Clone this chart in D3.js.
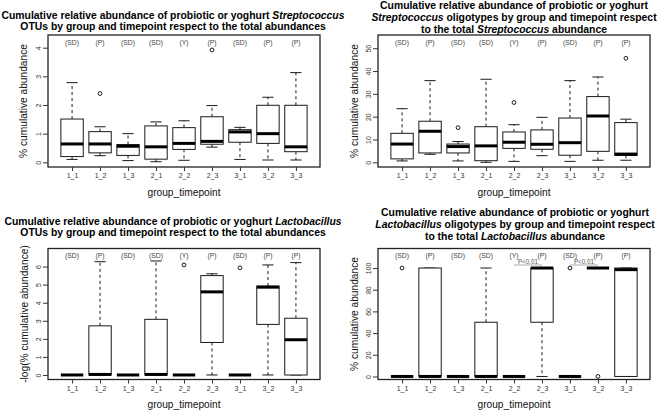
<!DOCTYPE html>
<html><head><meta charset="utf-8">
<script src="https://cdn.jsdelivr.net/npm/d3@7"></script>
<style>body{margin:0;background:#fff}svg{display:block}text{font-family:"Liberation Sans",Arial,Helvetica,sans-serif}</style>
</head><body><svg id="c" width="660" height="412"></svg>
<script>
const categories = ["1_1","1_2","1_3","2_1","2_2","2_3","3_1","3_2","3_3"];
const groupLabels = ["(SD)","(P)","(SD)","(SD)","(Y)","(P)","(SD)","(P)","(P)"];

// each entry: [lower whisker, Q1, median, Q3, upper whisker]
const strepOtuStats = [[0.10,0.20,0.64,1.51,2.78],[0.23,0.33,0.64,1.07,1.24],[0.06,0.24,0.56,0.62,1.00],[0.02,0.11,0.54,1.27,1.41],[0.07,0.45,0.66,1.21,1.45],[0.53,0.63,0.73,1.59,1.98],[0.10,0.70,1.06,1.14,1.22],[0.08,0.66,1.00,1.99,2.27],[0.08,0.37,0.54,1.99,3.13]];
const strepOtuOutliers = [[],[2.40],[],[],[],[3.92],[],[],[]];
const strepOtuTicks = [0,1,2,3,4];

const strepOligoStats = [[0.6,1.5,8.0,12.7,23.5],[3.5,4.1,13.6,18.0,35.8],[0.6,4.1,6.9,8.0,9.1],[0.0,0.7,7.2,15.6,36.4],[0.4,6.1,8.8,13.3,16.5],[2.9,5.7,7.9,14.2,19.7],[0.4,3.1,8.6,19.4,35.8],[0.9,4.8,20.3,28.8,37.4],[0.9,3.0,3.6,17.4,18.9]];
const strepOligoOutliers = [[],[],[15.2],[],[26.2],[],[],[],[45.6]];
const strepOligoTicks = [0,10,20,30,40,50];

const lactoOtuStats = [[0,0,0,0,0],[0,0,0.03,2.72,6.27],[0,0,0,0,0],[0,0,0.03,3.08,6.31],[0,0,0,0,0],[0,1.8,4.6,5.5,5.6],[0,0,0,0,0],[0,2.8,4.86,4.92,6.09],[0,0,1.95,3.14,6.22]];
const lactoOtuOutliers = [[],[],[],[],[6.09],[],[5.93],[],[]];
const lactoOtuTicks = [0,1,2,3,4,5,6];

const lactoOligoStats = [[0,0,0,0,0],[0,0,0,100,100],[0,0,0,0,0],[0,0,0,50,100],[0,0,0,0,0],[0,50,100,100,100],[0,0,0,0,0],[100,100,100,100,100],[0,0,98.5,100,100]];
const lactoOligoOutliers = [[100],[],[],[],[],[],[100],[0],[]];
const lactoOligoTicks = [0,20,40,60,80,100];
const lactoOligoPairs = [[4,5],[6,7]];
const pLabel = "P<0.01";

const svg = d3.select("#c");
svg.append("rect").attr("width",660).attr("height",412).attr("fill","#fff");

const panels = [
  {ox:0, oy:0, top:35, bottom:167, yDom:[-0.164,4.443], stats:strepOtuStats, outl:strepOtuOutliers, ticks:strepOtuTicks,
   ylab:"% cumulative abundance", ylabX:23, tcx:173, gy:195.5,
   title:[[["Cumulative relative abundance of probiotic or yoghurt ",0],["Streptococcus",1]],[["OTUs by group and timepoint respect to the total abundances",0]]], ty:[18.5,30]},
  {ox:330, oy:0, top:35, bottom:167, yDom:[-2.06,55.8], stats:strepOligoStats, outl:strepOligoOutliers, ticks:strepOligoTicks,
   ylab:"% cumulative abundance", ylabX:24, tcx:184, gy:195.5,
   title:[[["Cumulative relative abundance of probiotic or yoghurt",0]],[["Streptococcus",1],[" oligotypes by group and timepoint respect",0]],[["to the total ",0],["Streptococcus",1],[" abundance",0]]], ty:[8.5,20.5,32.5]},
  {ox:0, oy:206, top:42.5, bottom:173.5, yDom:[-0.25,7.0], stats:lactoOtuStats, outl:lactoOtuOutliers, ticks:lactoOtuTicks,
   ylab:"-log(% cumulative abundance)", ylabX:24, tcx:173, gy:201.5,
   title:[[["Cumulative relative abundance of probiotic or yoghurt ",0],["Lactobacillus",1]],[["OTUs by group and timepoint respect to the total abundances",0]]], ty:[18.5,30]},
  {ox:330, oy:206, top:42.5, bottom:173.5, yDom:[-2.8,118], stats:lactoOligoStats, outl:lactoOligoOutliers, ticks:lactoOligoTicks,
   ylab:"% cumulative abundance", ylabX:24, tcx:185, gy:201.5, pairs:lactoOligoPairs,
   title:[[["Cumulative relative abundance of probiotic or yoghurt",0]],[["Lactobacillus",1],[" oligotypes by group and timepoint respect",0]],[["to the total ",0],["Lactobacillus",1],[" abundance",0]]], ty:[10,22,33.5]}
];

const ink = "#1a1a1a";
panels.forEach(p => {
  const g = svg.append("g").attr("transform", `translate(${p.ox},${p.oy})`);
  const left = 48, right = 320;
  const x = d3.scaleLinear().domain([0.14, categories.length + 0.86]).range([left, right]);
  const y = d3.scaleLinear().domain(p.yDom).range([p.bottom, p.top]);
  const bw = x(1.4) - x(1);   // half box width (boxwex 0.8)
  const cw = x(1.2) - x(1);   // half staple width

  p.title.forEach((line, i) => {
    const t = g.append("text").attr("x", p.tcx).attr("y", p.ty[i]).attr("text-anchor","middle")
      .attr("font-size", "10.4px").attr("font-weight","bold").attr("fill","#000");
    line.forEach(([s, it]) => t.append("tspan").text(s).attr("font-style", it ? "italic" : "normal"));
  });

  p.stats.forEach((s, i) => {
    const cx = x(i + 1);
    const [lo, q1, md, q3, hi] = s;
    g.append("line").attr("x1",cx).attr("x2",cx).attr("y1",y(q3)).attr("y2",y(hi))
      .attr("stroke",ink).attr("stroke-width",1).attr("stroke-dasharray","3,3");
    g.append("line").attr("x1",cx).attr("x2",cx).attr("y1",y(q1)).attr("y2",y(lo))
      .attr("stroke",ink).attr("stroke-width",1).attr("stroke-dasharray","3,3");
    [lo, hi].forEach(v => g.append("line").attr("x1",cx-cw).attr("x2",cx+cw).attr("y1",y(v)).attr("y2",y(v))
      .attr("stroke",ink).attr("stroke-width",1));
    g.append("rect").attr("x",cx-bw).attr("width",2*bw).attr("y",y(q3)).attr("height",Math.max(0,y(q1)-y(q3)))
      .attr("fill","#fff").attr("stroke",ink).attr("stroke-width",1);
    g.append("line").attr("x1",cx-bw).attr("x2",cx+bw).attr("y1",y(md)).attr("y2",y(md))
      .attr("stroke","#000").attr("stroke-width",3);
    p.outl[i].forEach(v => g.append("circle").attr("cx",cx).attr("cy",y(v)).attr("r",1.9)
      .attr("fill","none").attr("stroke",ink).attr("stroke-width",1));
    g.append("text").attr("x",cx).attr("y",p.top+9.5).attr("text-anchor","middle")
      .attr("font-size","6.8px").attr("fill","#444").text(groupLabels[i]);
  });

  if (p.pairs) p.pairs.forEach(([a, b]) => {
    const x1 = x(a + 1), x2 = x(b + 1);
    g.append("line").attr("x1",x1).attr("x2",x2).attr("y1",p.top+16.5).attr("y2",p.top+16.5)
      .attr("stroke","#999").attr("stroke-width",0.8);
    g.append("text").attr("x",(x1+x2)/2).attr("y",p.top+15.2).attr("text-anchor","middle")
      .attr("font-size","6.3px").attr("fill","#555").text(pLabel);
  });

  g.append("rect").attr("x",left).attr("y",p.top).attr("width",right-left).attr("height",p.bottom-p.top)
    .attr("fill","none").attr("stroke","#222").attr("stroke-width",1.3);

  const xa = g.append("g").attr("transform",`translate(0,${p.bottom})`)
    .call(d3.axisBottom(x).tickValues(d3.range(1, categories.length + 1)).tickFormat(d => categories[d-1]).tickSize(4).tickPadding(2.5));
  xa.select(".domain").remove();
  xa.selectAll("line").attr("stroke","#333");
  xa.selectAll("text").attr("font-size","7px").attr("fill","#333").attr("font-family",null);
  g.append("text").attr("x",(left+right)/2).attr("y",p.gy).attr("text-anchor","middle")
    .attr("font-size","10.2px").attr("fill","#111").text("group_timepoint");

  const ya = g.append("g").attr("transform",`translate(${left},0)`)
    .call(d3.axisLeft(y).tickValues(p.ticks).tickSize(5).tickFormat(d3.format("d")));
  ya.select(".domain").remove();
  ya.selectAll("line").attr("stroke","#333");
  ya.selectAll("text").attr("font-size","7px").attr("fill","#333").attr("font-family",null)
    .attr("text-anchor","middle").attr("x",null).attr("dy",null)
    .attr("transform","translate(-9,0) rotate(-90)").attr("y",0).attr("dy","0.35em");
  g.append("text").attr("transform",`translate(${p.ylabX},${(p.top+p.bottom)/2}) rotate(-90)`)
    .attr("text-anchor","middle").attr("dy","0.35em").attr("font-size","10.2px").attr("fill","#111").text(p.ylab);
});
</script></body></html>
